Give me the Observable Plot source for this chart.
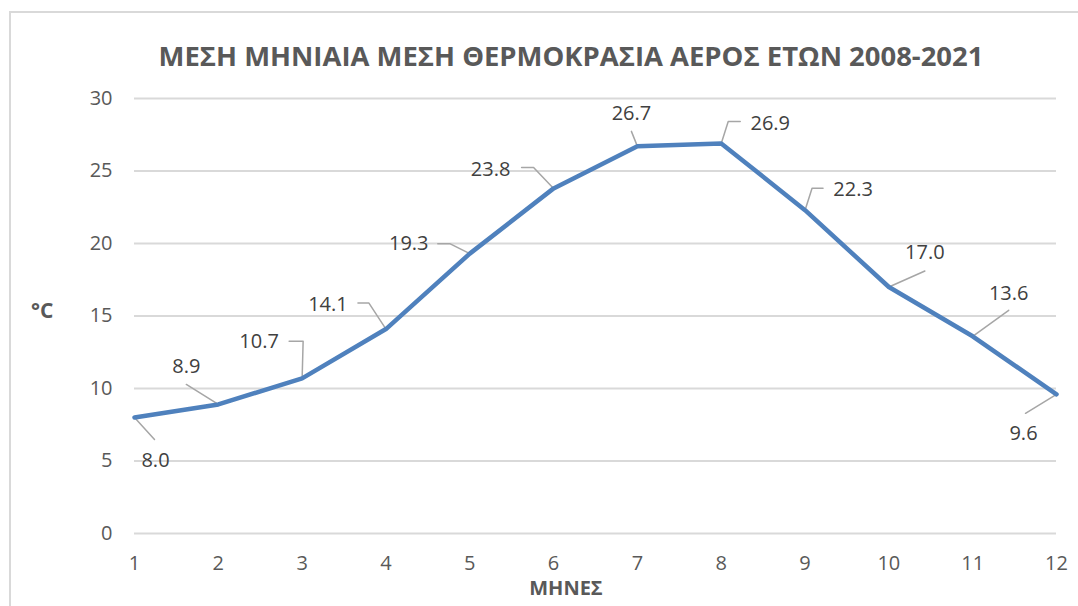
<!DOCTYPE html>
<html>
<head>
<meta charset="utf-8">
<script src="https://cdn.jsdelivr.net/npm/d3@7"></script>
<script src="https://cdn.jsdelivr.net/npm/@observablehq/plot@0.6"></script>
<style>
  html, body { margin: 0; padding: 0; width: 1078px; height: 606px; overflow: hidden; background: #fff; }
  body { position: relative; font-family: "Open Sans", sans-serif; color: #595959; }
  #frame { position: absolute; left: 9px; top: 11px; width: 1200px; height: 800px; border: 2px solid #d9d9d9; box-sizing: border-box; }
  #title { position: absolute; left: 0; top: 38px; width: 1142px; text-align: center; font-weight: 700; font-size: 25px; white-space: nowrap; line-height: 36px; }
  #title span { display: inline-block; }
  #ylab { position: absolute; left: 31px; top: 296px; font-weight: 700; font-size: 21px; line-height: 28px; }
  #xlab { position: absolute; left: 0; top: 578px; width: 1132px; text-align: center; font-weight: 700; font-size: 20px; line-height: 20px; }
  #chart { position: absolute; left: 0; top: 80px; }
</style>
</head>
<body>
<div id="frame"></div>
<div id="title"><span>ΜΕΣΗ ΜΗΝΙΑΙΑ ΜΕΣΗ ΘΕΡΜΟΚΡΑΣΙΑ ΑΕΡΟΣ ΕΤΩΝ 2008-2021</span></div>
<div id="ylab">°C</div>
<div id="xlab">ΜΗΝΕΣ</div>
<div id="chart"></div>
<script>
// ---- data ----
const months = [1, 2, 3, 4, 5, 6, 7, 8, 9, 10, 11, 12];
const temps = [8.0, 8.9, 10.7, 14.1, 19.3, 23.8, 26.7, 26.9, 22.3, 17.0, 13.6, 9.6];
const yTicks = [0, 5, 10, 15, 20, 25, 30];
const xTicks = months;

// ---- layout (pixel offsets of each data label and its leader line, relative to the point) ----
const labelOffsets = [
  [21, 43], [-32, -38], [-43, -37], [-58, -24], [-61, -10], [-63, -19],
  [-6, -33], [49, -20], [48, -21], [36, -34], [36, -43], [-33, 39]
];
const leaderOffsets = [
  [[0, 0], [20, 22]],
  [[0, 0], [-32, -20]],
  [[0, 0], [1, -37], [-13, -37]],
  [[0, 0], [-17, -26], [-28, -26]],
  [[0, 0], [-20, -10], [-32, -10]],
  [[0, 0], [-20, -21], [-32, -21]],
  [[0, 0], [-6, -15]],
  [[0, 0], [7, -22], [19, -22]],
  [[0, 0], [7, -22], [18, -22]],
  [[0, 0], [36, -16]],
  [[0, 0], [36, -26]],
  [[0, 0], [-31, 19]]
];

const W = 1078, H = 526, mt = 18, mb = 73, ml = 134, mr = 22;
const kx = (W - ml - mr) / (months[months.length - 1] - months[0]);
const ky = (H - mt - mb) / (yTicks[yTicks.length - 1] - yTicks[0]);

const data = months.map((m, i) => ({ month: m, temp: temps[i] }));
const leaders = [];
leaderOffsets.forEach((pts, i) => {
  pts.forEach(([ox, oy]) => leaders.push({ id: i, x: months[i] + ox / kx, y: temps[i] - oy / ky }));
});

const labelMarks = data.map((d, i) => Plot.text([d], {
  x: "month", y: "temp", text: (v) => v.temp.toFixed(1),
  dx: labelOffsets[i][0], dy: labelOffsets[i][1],
  fill: "#404040", fontSize: 20, textAnchor: "middle"
}));

const chart = Plot.plot({
  width: W, height: H,
  marginTop: mt, marginBottom: mb, marginLeft: ml, marginRight: mr,
  style: { fontFamily: "Open Sans, sans-serif", fontSize: "20px", color: "#595959", background: "transparent" },
  x: { domain: [1, 12], ticks: xTicks, tickSize: 0, tickPadding: 22, tickFormat: d => String(d), label: null },
  y: { domain: [0, 30], ticks: yTicks, tickSize: 0, tickPadding: 22, tickFormat: d => String(d), label: null },
  marks: [
    Plot.gridY(yTicks, { stroke: "#d9d9d9", strokeOpacity: 1, strokeWidth: 2 }),
    Plot.line(leaders, { x: "x", y: "y", z: "id", stroke: "#a6a6a6", strokeWidth: 1.5 }),
    Plot.line(data, { x: "month", y: "temp", stroke: "#4f81bd", strokeWidth: 4.5, strokeLinejoin: "round", strokeLinecap: "round" }),
    ...labelMarks
  ]
});
document.getElementById("chart").appendChild(chart);

// fit title to reference width
const span = document.querySelector("#title span");
const w = span.getBoundingClientRect().width;
const target = 825;
span.parentElement.style.fontSize = (25 * target / w) + "px";
</script>
</body>
</html>
